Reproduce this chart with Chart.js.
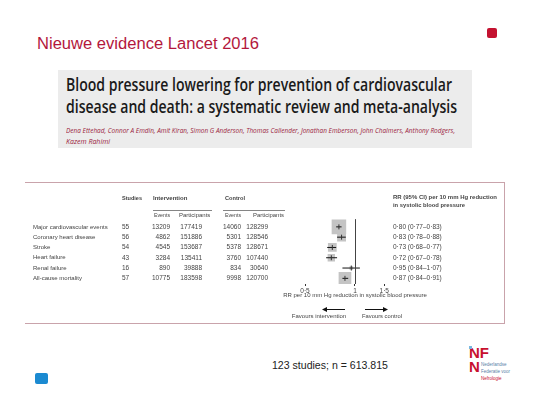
<!DOCTYPE html>
<html>
<head>
<meta charset="utf-8">
<script src="https://cdn.jsdelivr.net/npm/chart.js@4/dist/chart.umd.min.js"></script>
<style>
  body { margin: 0; width: 540px; height: 405px; background: #fff; position: relative; overflow: hidden; font-family: "Liberation Sans", Arial, sans-serif; }
  .fit { position: absolute; white-space: nowrap; transform-origin: 0 0; }
  #title { left: 37px; top: 36px; font-size: 16px; line-height: 16px; color: #b3173c; }
  #redsq { position: absolute; left: 487px; top: 28px; width: 10px; height: 10px; border-radius: 2px; background: #c41230; }
  #bluesq { position: absolute; left: 35px; top: 373px; width: 13px; height: 11px; border-radius: 2px; background: #1b8ad1; }
  #paper { position: absolute; left: 58px; top: 70px; width: 414px; height: 78px; background: #ececec; }
  .ptitle { left: 8px; font-family: "Open Sans", sans-serif; font-weight: 600; font-size: 18px; line-height: 22px; color: #1a1a1a; }
  .auth { left: 8px; font-family: "Open Sans", sans-serif; font-style: italic; font-size: 7px; line-height: 10px; color: #9b1c3c; }
  #frame { position: absolute; left: 25px; top: 182px; width: 480px; height: 142px; box-sizing: border-box; border-top: 1px solid #c9a3ab; border-right: 1px solid #c9a3ab; border-bottom: 1px solid #c9a3ab; }
  #wrap { position: absolute; left: 25px; top: 182px; width: 480px; height: 141px; }
  #note { left: 272px; top: 358px; font-size: 11px; line-height: 14px; color: #222; }
  .logo { position: absolute; font-family: "Liberation Sans", Arial, sans-serif; font-weight: bold; font-size: 15px; line-height: 13px; color: #c8102e; }
  .ltxt { position: absolute; left: 481px; font-size: 4.5px; line-height: 5px; color: #5b7fa8; white-space: nowrap; }
</style>
</head>
<body>
<div id="title" class="fit" data-w="222">Nieuwe evidence Lancet 2016</div>
<div id="redsq"></div>

<div id="paper">
  <div class="ptitle fit" style="top:3px" data-w="386">Blood pressure lowering for prevention of cardiovascular</div>
  <div class="ptitle fit" style="top:25px" data-w="391">disease and death: a systematic review and meta-analysis</div>
  <div class="auth fit" style="top:56px" data-w="389">Dena Ettehad, Connor A Emdin, Amit Kiran, Simon G Anderson, Thomas Callender, Jonathan Emberson, John Chalmers, Anthony Rodgers,</div>
  <div class="auth fit" style="top:67px">Kazem Rahimi</div>
</div>

<div id="wrap"><canvas id="myChart"></canvas></div>
<div id="frame"></div>

<div id="note" class="fit" data-w="116">123 studies; n = 613.815</div>

<div class="logo" style="left:469px;top:346px">NF</div>
<div style="position:absolute;left:469px;top:346px;width:3px;height:3px;background:#7ab8e0"></div>
<div class="logo" style="left:469px;top:360px">N</div>
<div class="ltxt" style="top:362px">Nederlandse</div>
<div class="ltxt" style="top:369px">Federatie voor</div>
<div class="ltxt" style="top:376px;color:#c8102e">Nefrologie</div>
<div id="bluesq"></div>

<script>
"use strict";

// data
const outcomes = ["Major cardiovascular events", "Coronary heart disease", "Stroke", "Heart failure", "Renal failure", "All-cause mortality"];
const studies = [55, 56, 54, 43, 16, 57];
const intEvents = [13209, 4862, 4545, 3284, 890, 10775];
const intParticipants = [177419, 151886, 153687, 135411, 39888, 183598];
const ctlEvents = [14060, 5301, 5378, 3760, 834, 9998];
const ctlParticipants = [128299, 128546, 128671, 107440, 30640, 120700];
const rr = [0.80, 0.83, 0.73, 0.72, 0.95, 0.87];
const rrLow = [0.77, 0.78, 0.68, 0.67, 0.84, 0.84];
const rrHigh = [0.83, 0.88, 0.77, 0.78, 1.07, 0.91];
const xTicks = [0.5, 1, 1.5];

// squeeze html text to the widths seen in the picture
document.querySelectorAll("[data-w]").forEach(function (el) {
  const w = el.getBoundingClientRect().width;
  el.style.transform = "scaleX(" + (el.dataset.w / w) + ")";
});

function dot(v, d) {
  return (d === undefined ? String(v) : v.toFixed(d)).replace(".", "\u00b7");
}

const FONT = '"Liberation Sans", Arial, sans-serif';
const TXT = "#444";

// table columns + arrows drawn against the chart's scales
const tablePlugin = {
  id: "table",
  afterDraw(chart) {
    const ctx = chart.ctx;
    const x = chart.scales.x;
    const y = chart.scales.y;
    const one = x.getPixelForValue(1);
    ctx.save();
    ctx.fillStyle = TXT;
    ctx.textBaseline = "middle";

    // header rows
    ctx.font = "bold 6px " + FONT;
    ctx.textAlign = "left";
    const hy = y.getPixelForValue(-2.73);
    ctx.fillText("Studies", 97, hy, 20);
    ctx.fillText("Intervention", 128, hy, 35);
    ctx.fillText("Control", 200, hy, 20);
    ctx.fillText("RR (95% CI) per 10 mm Hg reduction", 368, y.getPixelForValue(-2.86), 104);
    ctx.fillText("in systolic blood pressure", 368, y.getPixelForValue(-2.1), 72);

    ctx.font = "6px " + FONT;
    const sy = y.getPixelForValue(-1.09);
    ctx.fillText("Events", 129, sy, 16);
    ctx.fillText("Participants", 154, sy, 33);
    ctx.fillText("Events", 200, sy, 16);
    ctx.fillText("Participants", 228, sy, 31);

    ctx.strokeStyle = "#666";
    ctx.lineWidth = 0.8;
    const uy = Math.round(y.getPixelForValue(-1.64)) + 0.5;
    ctx.beginPath();
    ctx.moveTo(128, uy); ctx.lineTo(187, uy);
    ctx.moveTo(198, uy); ctx.lineTo(260, uy);
    ctx.stroke();

    // rows
    outcomes.forEach(function (name, i) {
      const ry = y.getPixelForValue(i);
      ctx.textAlign = "left";
      ctx.font = "6px " + FONT;
      ctx.fillText(name, 8, ry);
      ctx.font = "6.5px " + FONT;
      ctx.fillText(String(studies[i]), 97, ry);
      ctx.fillText(dot(rr[i], 2) + " (" + dot(rrLow[i], 2) + "\u2013" + dot(rrHigh[i], 2) + ")", 368, ry);
      ctx.textAlign = "right";
      ctx.fillText(String(intEvents[i]), 145, ry);
      ctx.fillText(String(intParticipants[i]), 177, ry);
      ctx.fillText(String(ctlEvents[i]), 216, ry);
      ctx.fillText(String(ctlParticipants[i]), 243, ry);
    });

    // line of no effect
    ctx.strokeStyle = "#444";
    ctx.lineWidth = 1;
    ctx.beginPath();
    ctx.moveTo(Math.round(one) + 0.5, y.getPixelForValue(-0.75));
    ctx.lineTo(Math.round(one) + 0.5, chart.chartArea.bottom);
    ctx.stroke();

    // axis title, arrows and favours labels
    ctx.textAlign = "center";
    ctx.font = "6px " + FONT;
    ctx.fillText("RR per 10 mm Hg reduction in systolic blood pressure", one, y.getPixelForValue(6.7), 146);
    const ay = Math.round(y.getPixelForValue(8.0)) + 0.5;
    ctx.strokeStyle = "#111";
    ctx.fillStyle = "#111";
    [[one - 10, one - 33], [one + 10, one + 33]].forEach(function (a) {
      const dir = Math.sign(a[1] - a[0]);
      ctx.beginPath();
      ctx.moveTo(a[0], ay); ctx.lineTo(a[1] - dir * 4, ay);
      ctx.stroke();
      ctx.beginPath();
      ctx.moveTo(a[1], ay); ctx.lineTo(a[1] - dir * 5, ay - 2.5); ctx.lineTo(a[1] - dir * 5, ay + 2.5);
      ctx.closePath();
      ctx.fill();
    });
    ctx.fillStyle = TXT;
    const fy = y.getPixelForValue(8.65);
    ctx.fillText("Favours intervention", one - 36, fy, 56);
    ctx.fillText("Favours control", one + 27, fy, 40);
    ctx.restore();
  },
};

// box area follows the number of events in each row
const boxRadius = rr.map(function (v, i) {
  return (0.088 * Math.sqrt(intEvents[i] + ctlEvents[i])) / Math.SQRT2;
});

const ciSets = outcomes.map(function (name, i) {
  return {
    label: name,
    data: [{ x: rrLow[i], y: i }, { x: rrHigh[i], y: i }],
    showLine: true,
    borderColor: "#111",
    borderWidth: 1,
    pointRadius: 0,
  };
});

const config = {
  type: "scatter",
  data: {
    datasets: [
      {
        label: "estimate",
        data: rr.map(function (v, i) { return { x: v, y: i }; }),
        pointStyle: "line",
        rotation: 90,
        pointRadius: 2.5,
        borderColor: "#333",
        borderWidth: 1,
      },
      ...ciSets,
      {
        label: "weight",
        data: rr.map(function (v, i) { return { x: v, y: i }; }),
        pointStyle: "rect",
        pointRadius: boxRadius,
        backgroundColor: "#c4c4c4",
        borderWidth: 0,
      },
    ],
  },
  options: {
    responsive: true,
    maintainAspectRatio: false,
    animation: false,
    events: [],
    layout: { padding: { left: 270, right: 92, top: 4, bottom: 0 } },
    plugins: { legend: { display: false }, tooltip: { enabled: false } },
    scales: {
      x: {
        type: "logarithmic",
        min: 0.435,
        max: 2.236,
        afterBuildTicks: function (s) {
          s.ticks = xTicks.map(function (v) { return { value: v }; });
        },
        afterFit: function (s) { s.height = 39; },
        ticks: {
          autoSkip: false,
          maxRotation: 0,
          padding: 1,
          color: TXT,
          font: { family: FONT, size: 6.5 },
          callback: function (v) { return dot(v); },
        },
        grid: { drawOnChartArea: false, drawTicks: true, tickLength: 2, color: "#333" },
        border: { display: false },
      },
      y: {
        type: "linear",
        reverse: true,
        min: -3.36,
        max: 5.55,
        display: false,
      },
    },
  },
  plugins: [tablePlugin],
};

new Chart(document.getElementById("myChart"), config);
</script>
</body>
</html>
